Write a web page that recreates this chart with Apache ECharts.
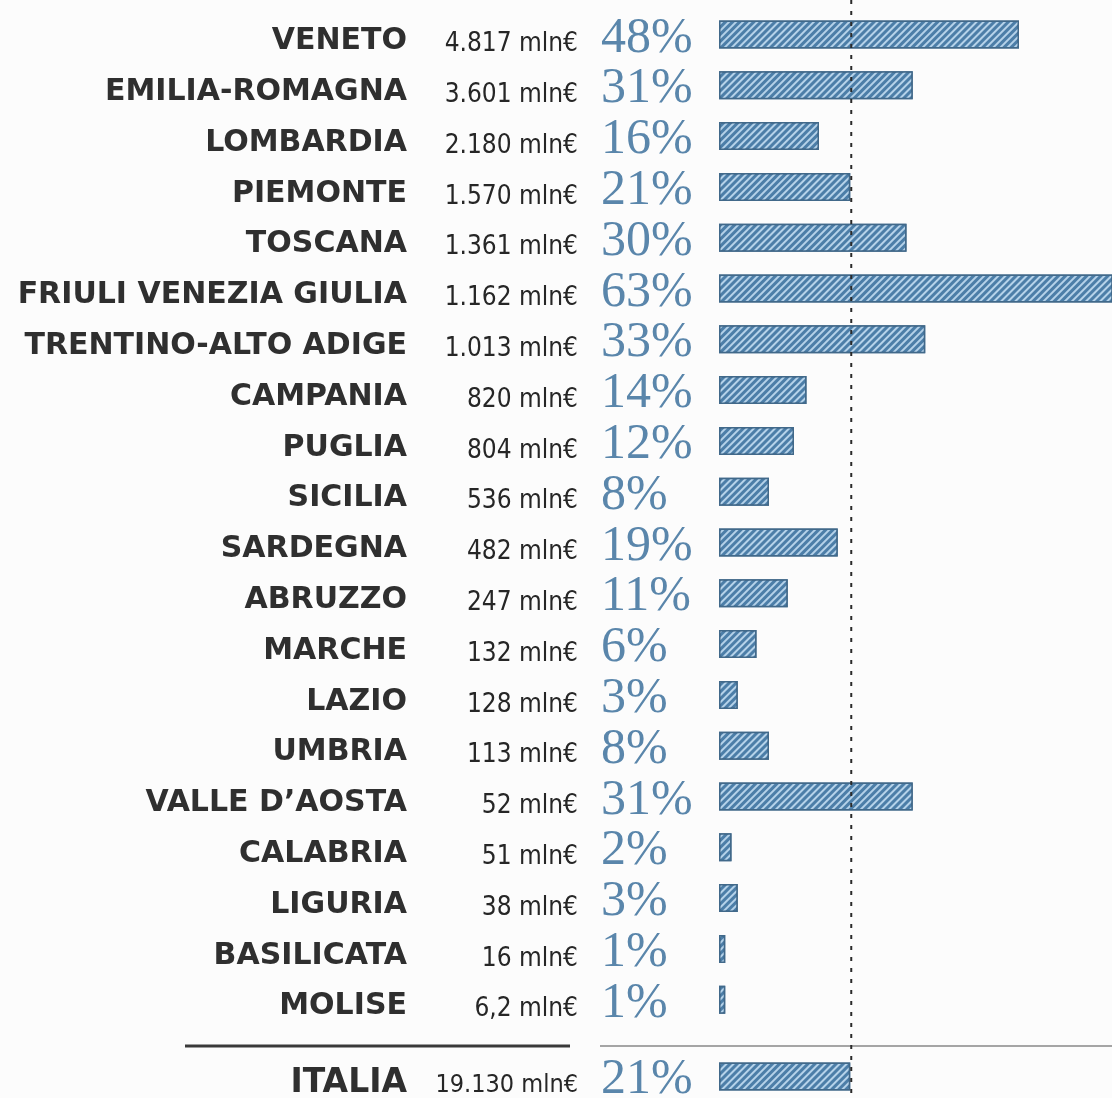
<!DOCTYPE html>
<html>
<head>
<meta charset="utf-8">
<script src="https://cdn.jsdelivr.net/npm/echarts@6/dist/echarts.min.js"></script>
<style>
  html, body { margin: 0; padding: 0; background: #fcfcfc; }
  #chart { width: 1112px; height: 1098px; }
</style>
</head>
<body>
<div id="chart"></div>
<script>
// regioni, spesa e quota
const regions = [
  "VENETO", "EMILIA-ROMAGNA", "LOMBARDIA", "PIEMONTE", "TOSCANA",
  "FRIULI VENEZIA GIULIA", "TRENTINO-ALTO ADIGE", "CAMPANIA", "PUGLIA", "SICILIA",
  "SARDEGNA", "ABRUZZO", "MARCHE", "LAZIO", "UMBRIA",
  "VALLE D\u2019AOSTA", "CALABRIA", "LIGURIA", "BASILICATA", "MOLISE"
];
const amounts = [
  "4.817", "3.601", "2.180", "1.570", "1.361",
  "1.162", "1.013", "820", "804", "536",
  "482", "247", "132", "128", "113",
  "52", "51", "38", "16", "6,2"
];
const shares = [48, 31, 16, 21, 30, 63, 33, 14, 12, 8, 19, 11, 6, 3, 8, 31, 2, 3, 1, 1];

const totalName = ["ITALIA"];
const totalAmount = ["19.130"];
const totalShare = [21];

const unit = " mln\u20ac";

const pctBlue = "#5a86ab";
const dark = "#2f2f2f";
const ROW = 50.8;

const barStyle = {
  color: "#4c7ea8",
  borderColor: "#41698a",
  borderWidth: 1.5,
  decal: {
    symbol: "rect",
    symbolSize: 1,
    dashArrayX: [1, 0],
    dashArrayY: [2, 3],
    rotation: -Math.PI / 4,
    color: "rgba(200,225,245,0.85)"
  }
};

const chart = echarts.init(document.getElementById("chart"));

// ogni colonna di testo sta in una griglia propria, spostata di qualche px
const grids = [], xAxes = [], yAxes = [];
const addSection = (top, names, amts, pcts, total) => {
  const cols = [
    { dy: 0, data: names, label: { show: false } },
    {
      dy: total ? 6.5 : 7, data: names,
      label: {
        margin: 312, color: dark,
        fontFamily: "DejaVu Sans", fontWeight: "bold", fontSize: total ? 33 : 30
      }
    },
    {
      dy: total ? 8.5 : 10, data: amts.map(a => a + unit),
      label: {
        margin: 141, color: "#262626",
        fontFamily: "Liberation Sans Narrow, DejaVu Sans Condensed", fontSize: total ? 25 : 26
      }
    },
    {
      dy: total ? 3 : 4, data: pcts.map(p => p + "%"),
      label: {
        margin: 118, align: "left", color: pctBlue,
        fontFamily: "Liberation Serif", fontSize: 50
      }
    }
  ];
  const first = grids.length;
  cols.forEach((c) => {
    const gi = grids.length;
    grids.push({
      left: 719, width: 400, top: top + c.dy, height: ROW * c.data.length,
      outerBoundsMode: "none", containLabel: false
    });
    xAxes.push({ type: "value", gridIndex: gi, min: 0, max: 64, show: false });
    yAxes.push({
      type: "category", gridIndex: gi, position: "left", inverse: true, data: c.data,
      axisLine: { show: false }, axisTick: { show: false },
      axisLabel: { interval: 0, ...c.label }
    });
  });
  return first;
};

const g1 = addSection(34.5 - ROW / 2, regions, amounts, shares, false);
const g2 = addSection(1076.5 - ROW / 2, totalName, totalAmount, totalShare, true);

chart.setOption({
  backgroundColor: "#fcfcfc",
  animation: false,
  grid: grids,
  xAxis: xAxes,
  yAxis: yAxes,
  series: [
    {
      type: "bar", xAxisIndex: g1, yAxisIndex: g1, data: shares,
      barWidth: 28, itemStyle: barStyle
    },
    {
      type: "bar", xAxisIndex: g2, yAxisIndex: g2, data: totalShare,
      barWidth: 28, itemStyle: barStyle
    }
  ]
});

// linea di riferimento sulla media nazionale + separatore
const refX = chart.convertToPixel({ xAxisIndex: g1 }, totalShare[0]) + 1;
chart.setOption({
  graphic: [
    {
      type: "line", z: 10,
      shape: { x1: refX, y1: 0, x2: refX, y2: 1098 },
      style: { stroke: "#2a2a2a", lineWidth: 2, lineDash: [4, 7] }
    },
    {
      type: "line",
      shape: { x1: 185, y1: 1046, x2: 570, y2: 1046 },
      style: { stroke: "#3a3a3a", lineWidth: 3 }
    },
    {
      type: "line",
      shape: { x1: 600, y1: 1046, x2: 1112, y2: 1046 },
      style: { stroke: "#a5a5a5", lineWidth: 2 }
    }
  ]
});
</script>
</body>
</html>
